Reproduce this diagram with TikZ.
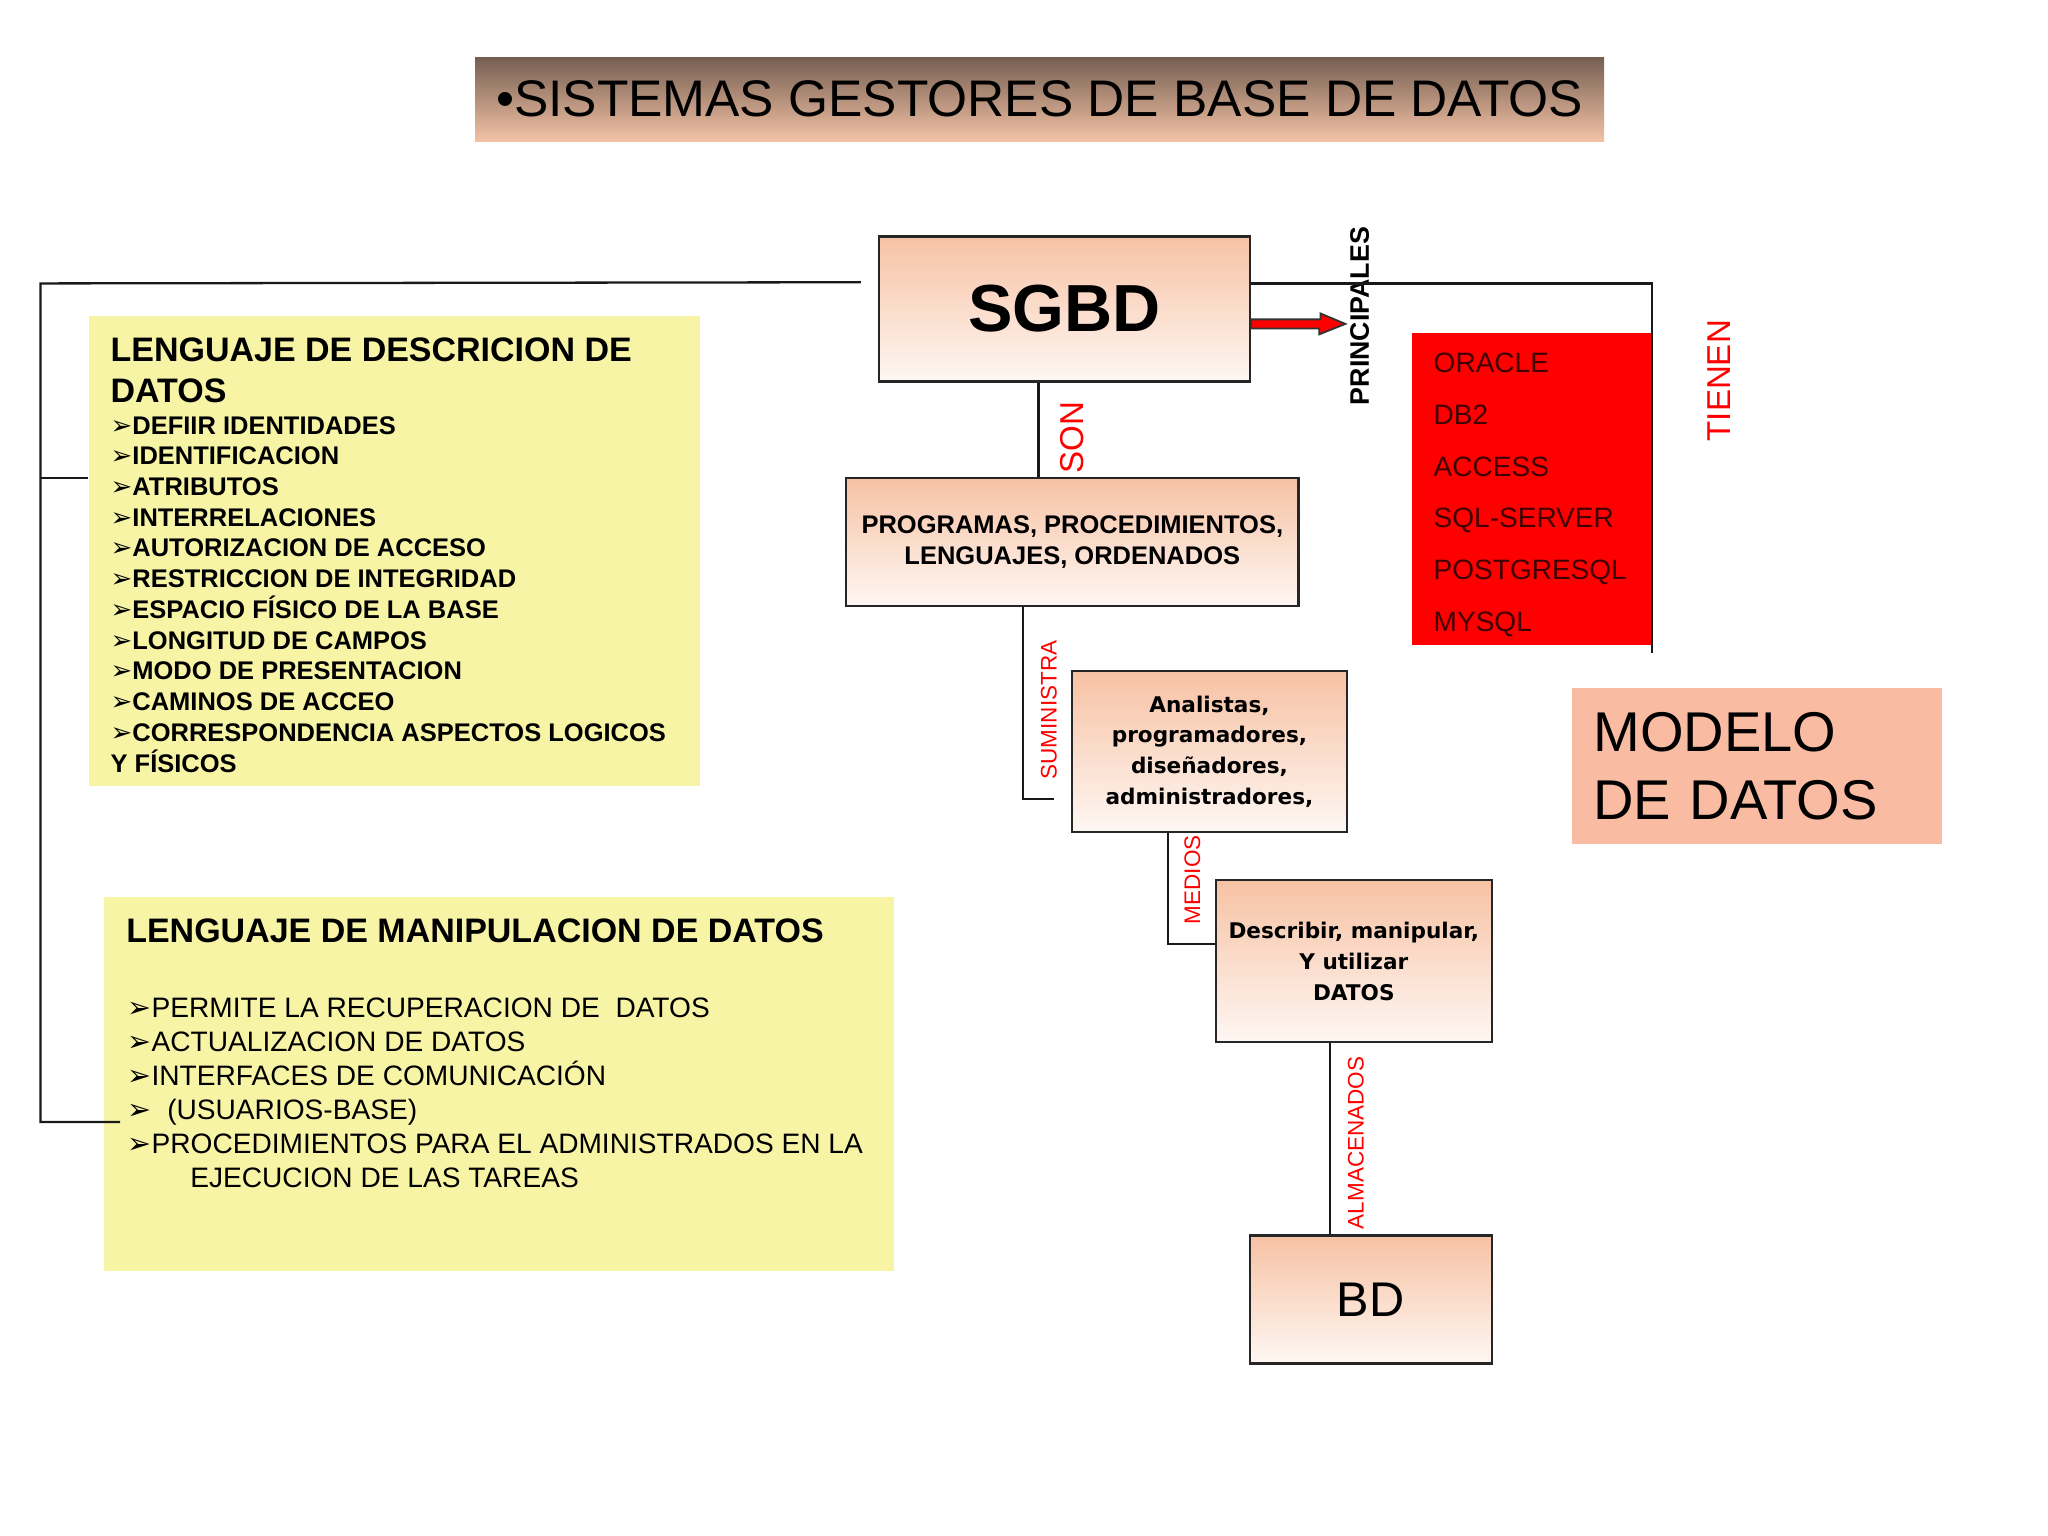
\documentclass[tikz,border=0pt]{standalone}
\usepackage{fontspec}
\setmainfont{Liberation Sans}
\newfontfamily\verdfont{DejaVu Sans}
\usetikzlibrary{calc}
\definecolor{TitleTop}{HTML}{765F52}
\definecolor{TitleBot}{HTML}{F3C2A5}
\definecolor{PeachTop}{HTML}{F7C2A4}
\definecolor{PeachBot}{HTML}{FEF7F3}
\definecolor{NoteYellow}{HTML}{F8F4A6}
\definecolor{ModelPeach}{HTML}{F9BCA2}
\definecolor{ListRed}{HTML}{400000}
\newcommand{\itm}{\scalebox{1.02}{\verdfont\mdseries ➢}}

\begin{document}
\begin{tikzpicture}[x=0.01cm,y=-0.01cm,
  box/.style={draw=black!85,line width=0.5pt,top color=PeachTop,bottom color=PeachBot,align=center,inner sep=0pt},
  note/.style={fill=NoteYellow,inner sep=0pt},
  link/.style={black!90,line width=0.5pt},
  rel/.style={red,rotate=90,inner sep=0pt,font=\fontsize{4.9}{5}\selectfont},
  txt/.style={inner sep=0pt,anchor=north west,align=left}]
  \useasboundingbox (0,0) rectangle (1568,1176);
  \fill[white] (0,0) rectangle (1568,1176);

  % title bar
  \node[top color=TitleTop,bottom color=TitleBot,minimum width=8.64cm,minimum height=0.64cm,inner sep=0pt,
        font=\fontsize{11.2}{13}\selectfont] (title) at (796,76) {•SISTEMAS GESTORES DE BASE DE DATOS};

  % main chain of boxes
  \node[box,minimum width=2.84cm,minimum height=1.11cm,font=\bfseries\fontsize{14.5}{16}\selectfont] (sgbd) at (815,236.5) {SGBD};
  \node[box,minimum width=3.46cm,minimum height=0.98cm,font=\bfseries\fontsize{5.55}{6.83}\selectfont] (prog) at (821,415)
       {PROGRAMAS, PROCEDIMIENTOS,\\LENGUAJES, ORDENADOS};
  \node[box,minimum width=2.10cm,minimum height=1.23cm,font=\verdfont\bfseries\fontsize{4.7}{6.69}\selectfont] (anal) at (926,575.5)
       {Analistas,\\programadores,\\diseñadores,\\administradores,};
  \node[box,minimum width=2.11cm,minimum height=1.24cm,font=\verdfont\bfseries\fontsize{4.7}{6.69}\selectfont] (desc) at (1036.5,736)
       {Describir, manipular,\\Y utilizar\\DATOS};
  \node[box,minimum width=1.85cm,minimum height=0.98cm,font=\fontsize{10.6}{12}\selectfont] (bd) at (1049.5,995) {BD};

  % products
  \node[fill=red,minimum width=1.84cm,minimum height=2.39cm,inner sep=0pt] (dbms) at (1173,374.5) {};
  \node[txt,text=ListRed,font=\fontsize{6.1}{11.27}\selectfont] (dbmslist) at (1097,269.5)
       {ORACLE\\DB2\\ACCESS\\SQL-SERVER\\POSTGRESQL\\MYSQL};

  \node[fill=ModelPeach,minimum height=1.19cm,text width=2.51cm,inner xsep=0.16cm,inner ysep=0pt,align=left,
        font=\fontsize{12.2}{14.8}\selectfont] (modelo) at (1345.5,586.5) {MODELO\\DE DATOS};

  % language notes
  \node[note,minimum width=4.68cm,minimum height=3.60cm] (ddl) at (302,422) {};
  \node[txt,font=\bfseries\fontsize{7.4}{8.82}\selectfont] (ddlhead) at (84,258) {LENGUAJE DE DESCRICION DE\\DATOS};
  \node[txt,font=\bfseries\fontsize{5.55}{6.69}\selectfont] (ddlitems) at (84,318)
       {\itm DEFIIR IDENTIDADES\\\itm IDENTIFICACION\\\itm ATRIBUTOS\\\itm INTERRELACIONES\\
        \itm AUTORIZACION DE ACCESO\\\itm RESTRICCION DE INTEGRIDAD\\\itm ESPACIO FÍSICO DE LA BASE\\
        \itm LONGITUD DE CAMPOS\\\itm MODO DE PRESENTACION\\\itm CAMINOS DE ACCEO\\
        \itm CORRESPONDENCIA ASPECTOS LOGICOS\\Y FÍSICOS};

  \node[note,minimum width=6.04cm,minimum height=2.86cm] (dml) at (382,830) {};
  \node[txt,font=\bfseries\fontsize{7.4}{8.8}\selectfont] (dmlhead) at (96,703) {LENGUAJE DE MANIPULACION DE DATOS};
  \node[txt,font=\fontsize{6.12}{7.4}\selectfont] (dmlitems) at (97,763.5)
       {\itm PERMITE LA RECUPERACION DE\ \ DATOS\\\itm ACTUALIZACION DE DATOS\\\itm INTERFACES DE COMUNICACIÓN\\
        \itm\ \ (USUARIOS-BASE)\\\itm PROCEDIMIENTOS PARA EL ADMINISTRADOS EN LA\\\hspace*{0.48cm}EJECUCION DE LAS TAREAS};

  % relation labels
  \node[rel,font=\fontsize{7.2}{8}\selectfont] (son) at (821,335) {SON};
  \node[rel] (sumi) at (803,543.5) {SUMINISTRA};
  \node[rel] (medios) at (913,673.5) {MEDIOS};
  \node[rel] (alma) at (1038,875) {ALMACENADOS};
  \node[rel,font=\fontsize{7.2}{8}\selectfont] (tienen) at (1316,291.5) {TIENEN};
  \node[rotate=90,inner sep=0pt,font=\bfseries\fontsize{5.83}{7}\selectfont] (princ) at (1041,242) {PRINCIPALES};

  % connectors
  \coordinate (sgl) at ($(sgbd.north west)+(-13,36)$);
  \coordinate (tk1) at (31,217);
  \coordinate (tk2) at (31,366);
  \coordinate (tk3) at (31,859);
  \coordinate (dmlend) at (92,859);
  \draw[link] (sgl) -- (tk1) -- (tk3) -- (dmlend);
  \draw[link] (tk2) -- (tk2 -| ddl.west);

  \coordinate (rt) at (1265,217);
  \coordinate (rend) at (1265,500);
  \draw[link] (sgbd.east |- rt) -- (rt) -- (rend);

  \coordinate (arw) at (1030,248);
  \filldraw[fill=red,draw=black!80,line width=0.4pt] ($(sgbd.east |- arw)+(0,-3.5)$) -- ++(53,0) -- ++(0,-4.5)
      -- (arw) -- ++(-20,8) -- ++(0,-4.5) -- ($(sgbd.east |- arw)+(0,3.5)$) -- cycle;

  \coordinate (c1) at ($(sgbd.south west)+(123,0)$);
  \draw[link] (c1) -- (c1 |- prog.north);
  \coordinate (c2) at ($(prog.south west)+(136,0)$);
  \coordinate (c3) at ($(anal.west)+(-13,36.5)$);
  \draw[link] (c2) |- (c3);
  \coordinate (c4) at ($(anal.south west)+(74,0)$);
  \draw[link] (c4) |- ($(desc.west)+(0,-13)$);
  \coordinate (c5) at ($(desc.south west)+(88,0)$);
  \draw[link] (c5) -- (c5 |- bd.north);
\end{tikzpicture}
\end{document}
